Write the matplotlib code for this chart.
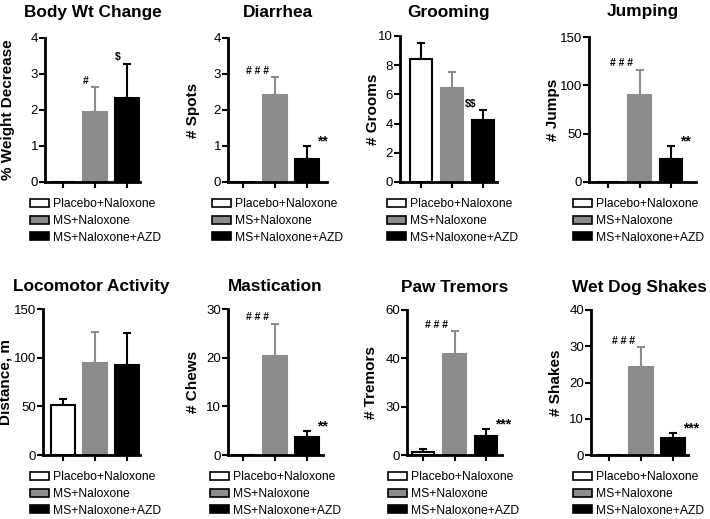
import matplotlib
matplotlib.use("Agg")
from matplotlib import pyplot as plt
from matplotlib.patches import Patch
import numpy as np

plt.rcParams['font.family'] = ['Liberation Sans', 'DejaVu Sans']

# groups and colours
groups = ['Placebo+Naloxone', 'MS+Naloxone', 'MS+Naloxone+AZD']
bar_colors = ['white', '#8c8c8c', 'black']
err_colors = ['black', '#8c8c8c', 'black']

# panel data
titles = ['Body Wt Change', 'Diarrhea', 'Grooming', 'Jumping',
          'Locomotor Activity', 'Mastication', 'Paw Tremors', 'Wet Dog Shakes']
ylabels = ['% Weight Decrease', '# Spots', '# Grooms', '# Jumps',
           'Distance, m', '# Chews', '# Tremors', '# Shakes']
ymax = [4, 4, 10, 150, 150, 30, 60, 40]
ystep = [1, 1, 2, 50, 50, 10, 20, 10]
means = [[0, 1.94, 2.33],
         [0, 2.43, 0.63],
         [8.4, 6.45, 4.25],
         [0, 90, 24],
         [51, 95, 92],
         [0, 20.3, 3.7],
         [1.1, 42, 7.9],
         [0, 24.4, 4.6]]
sems = [[0, 0.69, 0.95],
        [0, 0.48, 0.37],
        [1.1, 1.05, 0.65],
        [0, 26, 13],
        [7, 31, 33],
        [0, 6.7, 1.2],
        [1.2, 9.3, 3.0],
        [0, 5.3, 1.6]]
# significance marks: (bar index, text, side)
marks = [[(1, '#', 'left'), (2, r'\$', 'left')],
         [(1, '# # #', 'left'), (2, '**', 'right')],
         [(2, r'\$\$', 'left')],
         [(1, '# # #', 'left'), (2, '**', 'right')],
         [],
         [(1, '# # #', 'left'), (2, '**', 'right')],
         [(1, '# # #', 'left'), (2, '***', 'right')],
         [(1, '# # #', 'left'), (2, '***', 'right')]]
# tick label text (Paw Tremors shows "30" at the 20 tick in the original)
ticklabels = {6: ['0', '30', '40', '60']}

W, H = 710, 519
# pixel layout: y-axis x, x-axis end, top, bottom, first tick x, last tick x,
# legend x, legend top, y-label gap from spine, title pad
layout = [(45, 140, 38, 182, 63, 127, 30, 198, 30, 15),
          (228, 327, 38, 182, 243, 307, 212, 198, 28, 15),
          (400, 497, 36, 182, 421, 483, 387, 198, 20, 14),
          (589, 696, 37, 182, 608, 671, 573, 198, 29, 15),
          (43, 140, 309, 455, 63, 127, 30, 471, 30, 13),
          (228, 323, 309, 455, 243, 307, 210, 471, 28, 13),
          (407, 502, 310, 455, 423, 486, 388, 471, 29, 13),
          (591, 688, 310, 455, 609, 673, 573, 471, 28, 13)]

fig = plt.figure(figsize=(W / 100, H / 100), dpi=100)
x = np.arange(3)

for i in range(8):
    x0, x1, yt, yb, t1, t3, lx, ly, lgap, tpad = layout[i]
    ax = fig.add_axes([x0 / W, 1 - yb / H, (x1 - x0) / W, (yb - yt) / H])
    sp = (t3 - t1) / 2
    ax.set_xlim(-(t1 - x0) / sp, (x1 - t1) / sp)
    ax.set_ylim(0, ymax[i])

    for j in range(3):
        ax.bar(x[j], means[i][j], width=0.72, color=bar_colors[j],
               edgecolor='black' if j != 1 else bar_colors[j], linewidth=1.5, zorder=2)
        if sems[i][j] > 0:
            ax.errorbar(x[j], means[i][j], yerr=[[0], [sems[i][j]]], fmt='none',
                        ecolor=err_colors[j], elinewidth=1.5, capsize=2.7, capthick=1.5, zorder=1)

    for j, txt, side in marks[i]:
        top = means[i][j] + sems[i][j]
        if side == 'left':
            ax.text(x[j] - 0.2, top + ymax[i] * 0.01, txt, ha='right', va='bottom',
                    fontsize=7.5, fontweight='bold')
        else:
            ax.text(x[j] + 0.3, top + ymax[i] * 0.03, txt, ha='left', va='center',
                    fontsize=10, fontweight='bold')

    ax.set_yticks(np.arange(0, ymax[i] + ystep[i] / 2, ystep[i]))
    if i in ticklabels:
        ax.set_yticklabels(ticklabels[i])
    ax.set_xticks(x)
    ax.set_xticklabels([])
    ax.tick_params(axis='both', direction='out', length=4, width=1.5, labelsize=9.5, pad=1)
    for s in ['top', 'right']:
        ax.spines[s].set_visible(False)
    for s in ['left', 'bottom']:
        ax.spines[s].set_linewidth(2)
    ax.set_ylabel(ylabels[i], fontsize=11, fontweight='bold')
    ax.yaxis.set_label_coords(-lgap / (x1 - x0), 0.5)
    ax.set_title(titles[i], fontsize=12.4, fontweight='bold', pad=tpad)

    handles = [Patch(facecolor=bar_colors[k], edgecolor='black', linewidth=1.2) for k in range(3)]
    ax.legend(handles, groups, loc='upper left', bbox_to_anchor=(lx / W, 1 - ly / H),
              bbox_transform=fig.transFigure, frameon=False, fontsize=8.7,
              handlelength=1.57, handleheight=0.66, handletextpad=0.35,
              labelspacing=0.4, borderpad=0, borderaxespad=0)

fig.savefig('out.png', dpi=100)
